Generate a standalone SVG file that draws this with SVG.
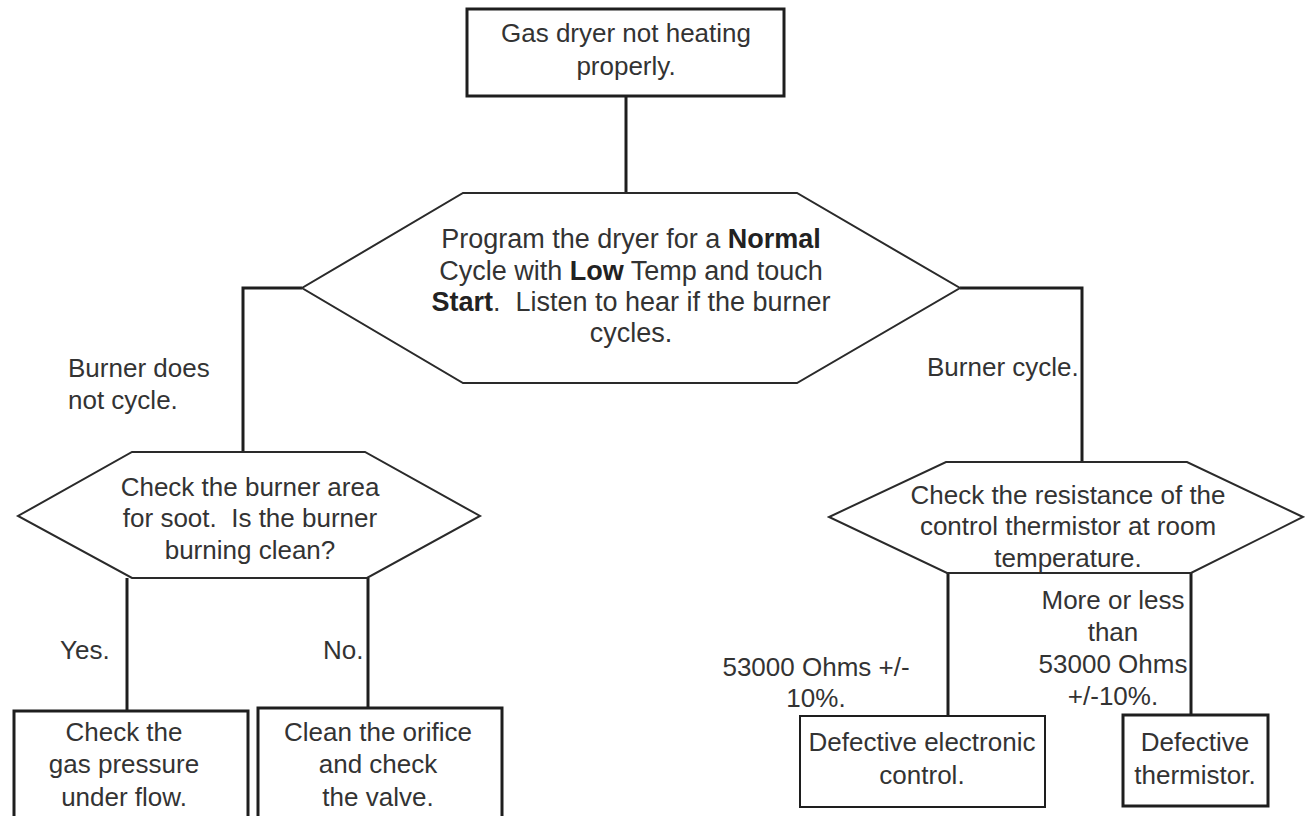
<svg xmlns="http://www.w3.org/2000/svg" width="1305" height="816" viewBox="0 0 1305 816">
<style>
text{font-family:"Liberation Sans",Arial,sans-serif;font-size:26px;fill:#333;}
.c{text-anchor:middle;}
.big{font-size:27px;}
.b{font-weight:bold;fill:#222;}
.box{fill:#fff;stroke:#1e1e1e;stroke-width:3;}
.thin{stroke-width:2;}
.hex{fill:#fff;stroke:#2a2a2a;stroke-width:2;}
.conn line,.conn polyline{fill:none;stroke:#1e1e1e;stroke-width:3;}
</style>
<rect width="1305" height="816" fill="#fff"/>
<g class="conn" id="connectors">
<line x1="626" y1="96" x2="626" y2="193"/>
<polyline points="302,288 243,288 243,452"/>
<polyline points="960,288 1082,288 1082,462"/>
<line x1="127" y1="578" x2="127" y2="711"/>
<line x1="368" y1="578" x2="368" y2="708"/>
<line x1="948" y1="573" x2="948" y2="716"/>
<line x1="1191" y1="573" x2="1191" y2="715"/>
</g>
<g id="n_start">
<rect class="box" x="467" y="9" width="317" height="87"/>
<text class="c" x="626" y="42">Gas dryer not heating</text>
<text class="c" x="626" y="75">properly.</text>
</g>
<g id="n_program">
<polygon class="hex" points="463,193 797,193 960,288 797,383 463,383 302,288"/>
<text class="c big" x="631" y="248">Program the dryer for a <tspan class="b">Normal</tspan></text>
<text class="c big" x="631" y="280">Cycle with <tspan class="b">Low</tspan> Temp and touch</text>
<text class="c big" x="631" y="311" xml:space="preserve"><tspan class="b">Start</tspan>.  Listen to hear if the burner</text>
<text class="c big" x="631" y="342">cycles.</text>
</g>
<g id="l_nocycle">
<text x="68" y="377">Burner does</text>
<text x="68" y="409">not cycle.</text>
</g>
<g id="l_cycle">
<text x="927" y="376">Burner cycle.</text>
</g>
<g id="n_soot">
<polygon class="hex" points="132,452 365,452 480,516 367,578 132,578 18,516"/>
<text class="c" x="250" y="496">Check the burner area</text>
<text class="c" x="250" y="527" xml:space="preserve">for soot.  Is the burner</text>
<text class="c" x="250" y="559">burning clean?</text>
</g>
<g id="n_resist">
<polygon class="hex" points="946,462 1187,462 1303,517 1191,573 947,573 829,517"/>
<text class="c" x="1068" y="504">Check the resistance of the</text>
<text class="c" x="1068" y="535">control thermistor at room</text>
<text class="c" x="1068" y="567">temperature.</text>
</g>
<g id="l_yes"><text x="60" y="659">Yes.</text></g>
<g id="l_no"><text x="323" y="659">No.</text></g>
<g id="l_ok">
<text class="c" x="816" y="676">53000 Ohms +/-</text>
<text class="c" x="816" y="707">10%.</text>
</g>
<g id="l_bad">
<text class="c" x="1113" y="609">More or less</text>
<text class="c" x="1113" y="641">than</text>
<text class="c" x="1113" y="673">53000 Ohms</text>
<text class="c" x="1113" y="705">+/-10%.</text>
</g>
<g id="n_gas">
<rect class="box" x="14" y="711" width="234" height="120"/>
<text class="c" x="124" y="741">Check the</text>
<text class="c" x="124" y="773">gas pressure</text>
<text class="c" x="124" y="806">under flow.</text>
</g>
<g id="n_clean">
<rect class="box" x="258" y="708" width="244" height="123"/>
<text class="c" x="378" y="741">Clean the orifice</text>
<text class="c" x="378" y="773">and check</text>
<text class="c" x="378" y="806">the valve.</text>
</g>
<g id="n_control">
<rect class="box thin" x="800" y="716" width="245" height="91"/>
<text class="c" x="922" y="751">Defective electronic</text>
<text class="c" x="922" y="784">control.</text>
</g>
<g id="n_therm">
<rect class="box" x="1123" y="715" width="145" height="91"/>
<text class="c" x="1195" y="751">Defective</text>
<text class="c" x="1195" y="784">thermistor.</text>
</g>
</svg>
